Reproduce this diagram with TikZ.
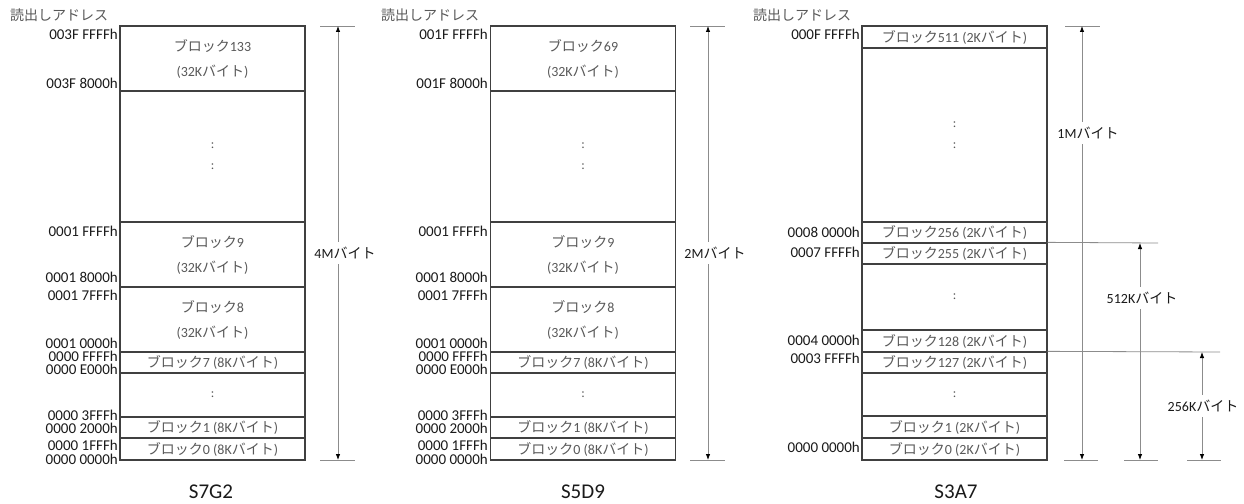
\documentclass[tikz,border=0pt]{standalone}
\usepackage{fontspec}
\setmainfont{Carlito}
\newfontfamily\jp{Noto Sans CJK JP}
\usetikzlibrary{arrows.meta}
\definecolor{boxline}{HTML}{404040}
\definecolor{blktext}{HTML}{595959}
\definecolor{addrtext}{HTML}{1A1A1A}
\definecolor{dimline}{HTML}{8C8C8C}
\newcommand{\J}[1]{{\jp #1}}
\begin{document}
\begin{tikzpicture}[x=1pt,y=-1pt,
  blk/.style={draw=boxline, line width=1.3pt, minimum width=185pt, inner sep=0pt,
    align=center, text=blktext, font=\fontsize{14}{25}\selectfont},
  dots/.style={draw=boxline, line width=1.3pt, minimum width=185pt, inner sep=0pt,
    align=center, text=blktext, font=\fontsize{13}{21}\selectfont},
  addr/.style={anchor=east, inner sep=0pt, text height=9.8pt, text depth=0.2pt,
    text=addrtext, font=\fontsize{15}{15}\selectfont},
  hdr/.style={anchor=west, inner sep=0pt, text=blktext, font=\fontsize{14}{14}\selectfont},
  ttl/.style={inner sep=0pt, text=addrtext, font=\fontsize{21}{21}\selectfont},
  dim/.style={draw=dimline, line width=0.8pt},
  dimarrow/.style={draw=dimline, line width=0.8pt,
    {Latex[length=6pt,width=4.5pt,color=black]}-{Latex[length=6pt,width=4.5pt,color=black]}},
  dimlab/.style={fill=white, inner xsep=8pt, inner ysep=5pt, text=addrtext, font=\fontsize{14}{14}\selectfont}
]
\useasboundingbox[fill=white] (0,0) rectangle (1244,503);

% ================= S7G2 =================
\node[hdr] (h1) at (10,15) {\J{読出しアドレス}};
\node[blk, minimum height=65] (a133) at (212.5,58.5) {\J{ブロック}133\\(32K\J{バイト})};
\node[dots, minimum height=131] (adots1) at (212.5,156.5) {:\\:};
\node[blk, minimum height=65] (a9) at (212.5,254.5) {\J{ブロック}9\\(32K\J{バイト})};
\node[blk, minimum height=65] (a8) at (212.5,319.5) {\J{ブロック}8\\(32K\J{バイト})};
\node[blk, minimum height=21] (a7) at (212.5,362.5) {\J{ブロック}7 (8K\J{バイト})};
\node[dots, minimum height=44] (adots2) at (212.5,395) {:};
\node[blk, minimum height=21] (a1) at (212.5,427.5) {\J{ブロック}1 (8K\J{バイト})};
\node[blk, minimum height=22] (a0) at (212.5,449) {\J{ブロック}0 (8K\J{バイト})};

\node[addr] (la1) at (118,35) {003F FFFFh};
\node[addr] (la2) at (118,84) {003F 8000h};
\node[addr] (la3) at (118,232) {0001 FFFFh};
\node[addr] (la4) at (118,278) {0001 8000h};
\node[addr] (la5) at (118,296) {0001 7FFFh};
\node[addr] (la6) at (118,343.5) {0001 0000h};
\node[addr] (la7) at (118,357) {0000 FFFFh};
\node[addr] (la8) at (118,370) {0000 E000h};
\node[addr] (la9) at (118,415.5) {0000 3FFFh};
\node[addr] (la10) at (118,428.5) {0000 2000h};
\node[addr] (la11) at (118,446) {0000 1FFFh};
\node[addr] (la12) at (118,459.5) {0000 0000h};

\coordinate (at1) at (320,26); \coordinate (at2) at (355,26);
\coordinate (ab1) at (320,460); \coordinate (ab2) at (355,460);
\coordinate (aat) at (338,26); \coordinate (aab) at (338,460);
\draw[dim] (at1) -- (at2);
\draw[dim] (ab1) -- (ab2);
\draw[dimarrow] (aat) -- (aab);
\node[dimlab] (asz) at (345,253) {4M\J{バイト}};
\node[ttl] (t1) at (211,492) {S7G2};

% ================= S5D9 =================
\node[hdr] (h2) at (381,15) {\J{読出しアドレス}};
\node[blk, minimum height=65] (b69) at (583,58.5) {\J{ブロック}69\\(32K\J{バイト})};
\node[dots, minimum height=131] (bdots1) at (583,156.5) {:\\:};
\node[blk, minimum height=65] (b9) at (583,254.5) {\J{ブロック}9\\(32K\J{バイト})};
\node[blk, minimum height=65] (b8) at (583,319.5) {\J{ブロック}8\\(32K\J{バイト})};
\node[blk, minimum height=21] (b7) at (583,362.5) {\J{ブロック}7 (8K\J{バイト})};
\node[dots, minimum height=44] (bdots2) at (583,395) {:};
\node[blk, minimum height=21] (b1) at (583,427.5) {\J{ブロック}1 (8K\J{バイト})};
\node[blk, minimum height=22] (b0) at (583,449) {\J{ブロック}0 (8K\J{バイト})};

\node[addr] (lb1) at (488,35) {001F FFFFh};
\node[addr] (lb2) at (488,84) {001F 8000h};
\node[addr] (lb3) at (488,232) {0001 FFFFh};
\node[addr] (lb4) at (488,278) {0001 8000h};
\node[addr] (lb5) at (488,296) {0001 7FFFh};
\node[addr] (lb6) at (488,343.5) {0001 0000h};
\node[addr] (lb7) at (488,357) {0000 FFFFh};
\node[addr] (lb8) at (488,370) {0000 E000h};
\node[addr] (lb9) at (488,415.5) {0000 3FFFh};
\node[addr] (lb10) at (488,428.5) {0000 2000h};
\node[addr] (lb11) at (488,446) {0000 1FFFh};
\node[addr] (lb12) at (488,459.5) {0000 0000h};

\coordinate (bt1) at (690,26); \coordinate (bt2) at (725,26);
\coordinate (bb1) at (690,460); \coordinate (bb2) at (725,460);
\coordinate (bat) at (708,26); \coordinate (bab) at (708,460);
\draw[dim] (bt1) -- (bt2);
\draw[dim] (bb1) -- (bb2);
\draw[dimarrow] (bat) -- (bab);
\node[dimlab] (bsz) at (715,253) {2M\J{バイト}};
\node[ttl] (t2) at (583,492) {S5D9};

% ================= S3A7 =================
\node[hdr] (h3) at (753,15) {\J{読出しアドレス}};
\node[blk, minimum height=22] (c511) at (954.5,37) {\J{ブロック}511 (2K\J{バイト})};
\node[dots, minimum height=174] (cdots1) at (954.5,135) {:\\:};
\node[blk, minimum height=21] (c256) at (954.5,232.5) {\J{ブロック}256 (2K\J{バイト})};
\node[blk, minimum height=21] (c255) at (954.5,253.5) {\J{ブロック}255 (2K\J{バイト})};
\node[dots, minimum height=66] (cdots2) at (954.5,297) {:};
\node[blk, minimum height=22] (c128) at (954.5,341) {\J{ブロック}128 (2K\J{バイト})};
\node[blk, minimum height=21] (c127) at (954.5,362.5) {\J{ブロック}127 (2K\J{バイト})};
\node[dots, minimum height=43] (cdots3) at (954.5,394.5) {:};
\node[blk, minimum height=22] (c1) at (954.5,427) {\J{ブロック}1 (2K\J{バイト})};
\node[blk, minimum height=22] (c0) at (954.5,449) {\J{ブロック}0 (2K\J{バイト})};

\node[addr] (lc1) at (860,35) {000F FFFFh};
\node[addr] (lc2) at (860,233) {0008 0000h};
\node[addr] (lc3) at (860,253) {0007 FFFFh};
\node[addr] (lc4) at (860,341) {0004 0000h};
\node[addr] (lc5) at (860,359) {0003 FFFFh};
\node[addr] (lc6) at (860,448) {0000 0000h};

\coordinate (ct1) at (1065,26); \coordinate (ct2) at (1100,26);
\coordinate (cb1) at (1064,460); \coordinate (cb2) at (1098,460);
\coordinate (cat) at (1082,26); \coordinate (cab) at (1082,460);
\draw[dim] (ct1) -- (ct2);
\draw[dim] (cb1) -- (cb2);
\draw[dimarrow] (cat) -- (cab);
\node[dimlab] (csz1) at (1088,133) {1M\J{バイト}};

\coordinate (c512s) at (c255.north east);
\coordinate (c512e) at (1158,243);
\coordinate (c512t) at (1140,243); \coordinate (c512b) at (1140,460);
\coordinate (cb3) at (1124,460); \coordinate (cb4) at (1158,460);
\draw[dim] (c512s) -- (c512e);
\draw[dim] (cb3) -- (cb4);
\draw[dimarrow] (c512t) -- (c512b);
\node[dimlab] (csz2) at (1142,298) {512K\J{バイト}};

\coordinate (c256s) at (c127.north east);
\coordinate (c256e) at (1220,352);
\coordinate (c256t) at (1202,352); \coordinate (c256b) at (1202,460);
\coordinate (cb5) at (1187,460); \coordinate (cb6) at (1221,460);
\draw[dim] (c256s) -- (c256e);
\draw[dim] (cb5) -- (cb6);
\draw[dimarrow] (c256t) -- (c256b);
\node[dimlab] (csz3) at (1203,406) {256K\J{バイト}};
\node[ttl] (t3) at (956,492) {S3A7};
\end{tikzpicture}
\end{document}
